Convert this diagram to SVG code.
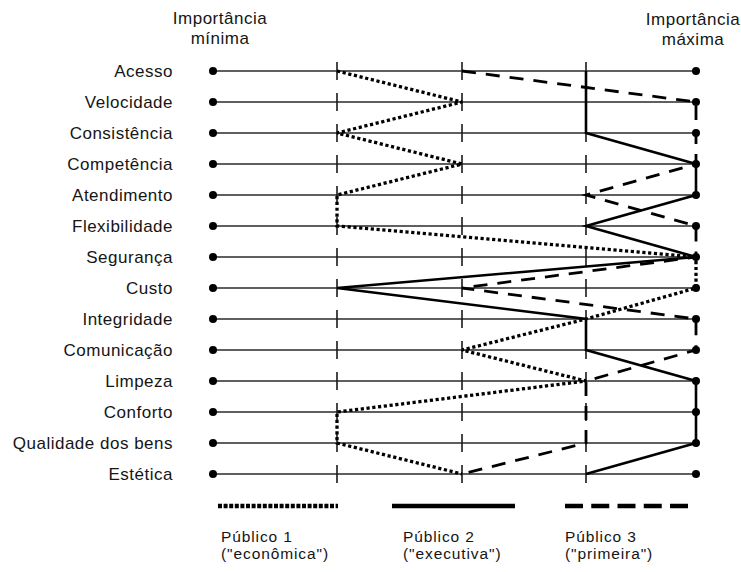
<svg xmlns="http://www.w3.org/2000/svg" width="741" height="572" viewBox="0 0 741 572">
  <style>
    .lbl { font-family: "Liberation Sans", Arial, sans-serif; font-size: 17px; letter-spacing: 0.5px; fill: #151515; }
    .leg { font-family: "Liberation Sans", Arial, sans-serif; font-size: 15.5px; letter-spacing: 0.9px; fill: #151515; }
    .axis { stroke: #2a2a2a; stroke-width: 1.4; fill: none; }
    .tick { stroke: #1a1a1a; stroke-width: 1.6; }
    .dot { fill: #000; }
    .p1 { fill: none; stroke: #000; stroke-width: 3.3; stroke-dasharray: 3.2 2.6; stroke-linejoin: miter; }
    .p2 { fill: none; stroke: #000; stroke-width: 2.6; stroke-linejoin: miter; stroke-miterlimit: 4; }
    .p3 { fill: none; stroke: #000; stroke-width: 2.8; stroke-dasharray: 14 10; stroke-linejoin: miter; }
  </style>
  <defs>
    <!-- one attribute scale: line from minimum to maximum importance, three tick marks, two end dots -->
    <g id="scale">
      <line class="axis" x1="213" y1="0" x2="696" y2="0"/>
      <line class="tick" x1="337" y1="-9" x2="337" y2="9"/>
      <line class="tick" x1="462" y1="-9" x2="462" y2="9"/>
      <line class="tick" x1="586" y1="-9" x2="586" y2="9"/>
      <circle class="dot" cx="213" cy="0" r="4"/>
      <circle class="dot" cx="696" cy="0" r="4"/>
    </g>
  </defs>

  <!-- scale end captions -->
  <g id="caption-min">
    <text class="lbl" x="220" y="24" text-anchor="middle">Importância</text>
    <text class="lbl" x="220" y="44" text-anchor="middle">mínima</text>
  </g>
  <g id="caption-max">
    <text class="lbl" x="693" y="25" text-anchor="middle">Importância</text>
    <text class="lbl" x="693" y="45" text-anchor="middle">máxima</text>
  </g>

  <!-- attribute rows -->
  <g id="row-acesso"><use href="#scale" y="71"/><text class="lbl" x="173" y="77" text-anchor="end">Acesso</text></g>
  <g id="row-velocidade"><use href="#scale" y="102"/><text class="lbl" x="173" y="108" text-anchor="end">Velocidade</text></g>
  <g id="row-consistencia"><use href="#scale" y="133"/><text class="lbl" x="173" y="139" text-anchor="end">Consistência</text></g>
  <g id="row-competencia"><use href="#scale" y="164"/><text class="lbl" x="173" y="170" text-anchor="end">Competência</text></g>
  <g id="row-atendimento"><use href="#scale" y="195"/><text class="lbl" x="173" y="201" text-anchor="end">Atendimento</text></g>
  <g id="row-flexibilidade"><use href="#scale" y="226"/><text class="lbl" x="173" y="232" text-anchor="end">Flexibilidade</text></g>
  <g id="row-seguranca"><use href="#scale" y="257"/><text class="lbl" x="173" y="263" text-anchor="end">Segurança</text></g>
  <g id="row-custo"><use href="#scale" y="288"/><text class="lbl" x="173" y="294" text-anchor="end">Custo</text></g>
  <g id="row-integridade"><use href="#scale" y="319"/><text class="lbl" x="173" y="325" text-anchor="end">Integridade</text></g>
  <g id="row-comunicacao"><use href="#scale" y="350"/><text class="lbl" x="173" y="356" text-anchor="end">Comunicação</text></g>
  <g id="row-limpeza"><use href="#scale" y="381"/><text class="lbl" x="173" y="387" text-anchor="end">Limpeza</text></g>
  <g id="row-conforto"><use href="#scale" y="412"/><text class="lbl" x="173" y="418" text-anchor="end">Conforto</text></g>
  <g id="row-qualidade"><use href="#scale" y="443"/><text class="lbl" x="173" y="449" text-anchor="end">Qualidade dos bens</text></g>
  <g id="row-estetica"><use href="#scale" y="474"/><text class="lbl" x="173" y="480" text-anchor="end">Estética</text></g>

  <!-- importance profiles of the three audiences -->
  <g id="profiles">
    <polyline id="profile-1" class="p1" points="337,71 462,102 337,133 462,164 337,195 337,226 696,257 696,288 586,319 462,350 586,381 337,412 337,443 462,474"/>
    <polyline id="profile-2" class="p2" points="586,71 586,133 696,164 696,195 586,226 696,257 337,288 586,319 586,350 696,381 696,443 586,474"/>
    <polyline id="profile-3" class="p3" points="462,71 696,102 696,164 586,195 696,226 696,257 462,288 696,319 696,350 586,381 586,443 462,474"/>
  </g>

  <!-- legend -->
  <g id="legend">
    <line x1="218" y1="506" x2="338" y2="506" stroke="#000" stroke-width="4.5" stroke-dasharray="4 1.6"/>
    <line x1="392" y1="506" x2="515" y2="506" stroke="#000" stroke-width="4.5"/>
    <line x1="565" y1="506" x2="688" y2="506" stroke="#000" stroke-width="4.5" stroke-dasharray="18 8.25"/>
    <text class="leg" x="221" y="542">Público 1</text>
    <text class="leg" x="221" y="559">("econômica")</text>
    <text class="leg" x="403" y="542">Público 2</text>
    <text class="leg" x="403" y="559">("executiva")</text>
    <text class="leg" x="565" y="542">Público 3</text>
    <text class="leg" x="565" y="559">("primeira")</text>
  </g>
</svg>
